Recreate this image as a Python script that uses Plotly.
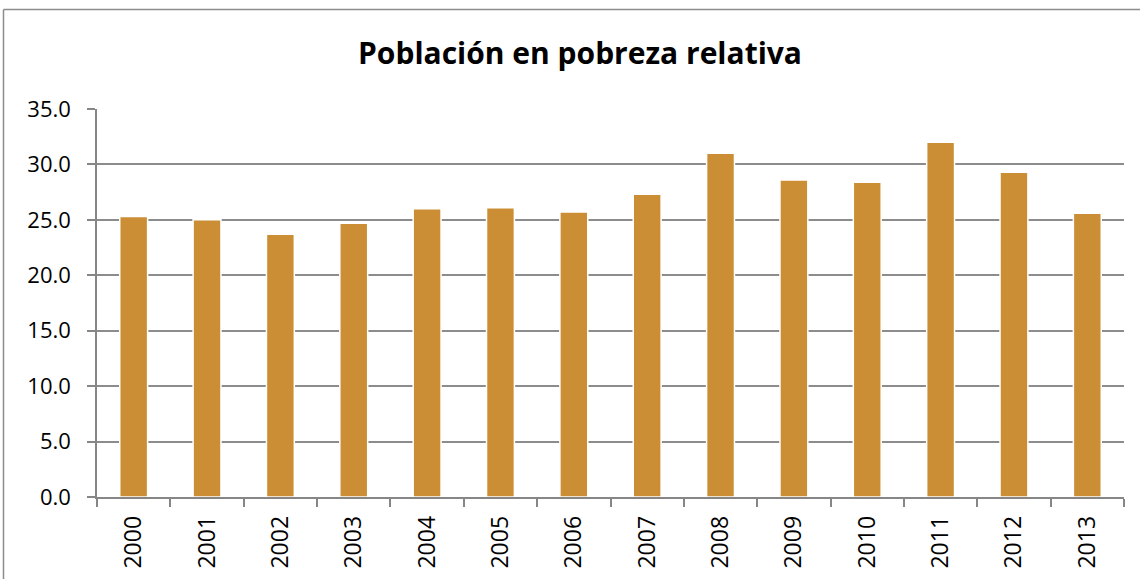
import plotly.graph_objects as go

years = ["2000", "2001", "2002", "2003", "2004", "2005", "2006",
         "2007", "2008", "2009", "2010", "2011", "2012", "2013"]
values = [25.3, 25.0, 23.7, 24.7, 26.0, 26.1, 25.7,
          27.3, 31.0, 28.6, 28.4, 32.0, 29.3, 25.6]
y_ticks = [0, 5, 10, 15, 20, 25, 30, 35]
title_text = "Población en pobreza relativa"

W, H = 1140, 579
L, R, T, B = 97, 16, 109, 82

fig = go.Figure()
fig.add_trace(go.Bar(
    x=years, y=values,
    marker=dict(color="#CB8E34", line=dict(color="#FFFFFF", width=1.5)),
    hoverinfo="x+y",
))

pw = W - L - R
ph = H - T - B
def px_to_paper_x(px):
    return (px - L) / pw
def px_to_paper_y(py):
    return (H - B - py) / ph

FONT = "Open Sans"

fig.update_layout(
    width=W, height=H,
    margin=dict(l=L, r=R, t=T, b=B),
    paper_bgcolor="white", plot_bgcolor="white",
    bargap=0.62,
    showlegend=False,
    title=dict(text="<b>" + title_text + "</b>", x=580 / W, xanchor="center",
               y=1 - 53 / H, yanchor="middle",
               font=dict(family=FONT, size=30, color="black")),
    font=dict(family=FONT, size=22, color="black"),
    xaxis=dict(
        type="category", tickangle=-90, tickson="boundaries",
        ticks="outside", ticklen=8, tickcolor="#868686", tickwidth=1.5,
        showline=True, linecolor="#868686", linewidth=1.5,
        showgrid=False, tickfont=dict(size=23, family=FONT),
        ticklabelstandoff=8,
        automargin=False,
    ),
    yaxis=dict(
        range=[0, 35], tickvals=y_ticks,
        ticktext=[f"{v:.1f}" for v in y_ticks],
        ticks="outside", ticklen=8, tickcolor="#868686", tickwidth=1.5,
        showline=True, linecolor="#868686", linewidth=1.5,
        showgrid=True, gridcolor="#8C8C8C", gridwidth=1.5,
        zeroline=False, tickfont=dict(size=22, family=FONT),
        ticklabelstandoff=12,
        automargin=False,
    ),
    shapes=[
        dict(type="line", xref="paper", yref="paper",
             x0=px_to_paper_x(3.5), x1=px_to_paper_x(1145),
             y0=px_to_paper_y(9.5), y1=px_to_paper_y(9.5),
             line=dict(color="#8C8C8C", width=1.5)),
        dict(type="line", xref="paper", yref="paper",
             x0=px_to_paper_x(3.5), x1=px_to_paper_x(3.5),
             y0=px_to_paper_y(9.5), y1=px_to_paper_y(590),
             line=dict(color="#8C8C8C", width=1.5)),
    ],
)

fig.write_html("out.html", config={"displayModeBar": False},
               post_script="document.body.style.margin='0';document.body.style.overflow='hidden';")
